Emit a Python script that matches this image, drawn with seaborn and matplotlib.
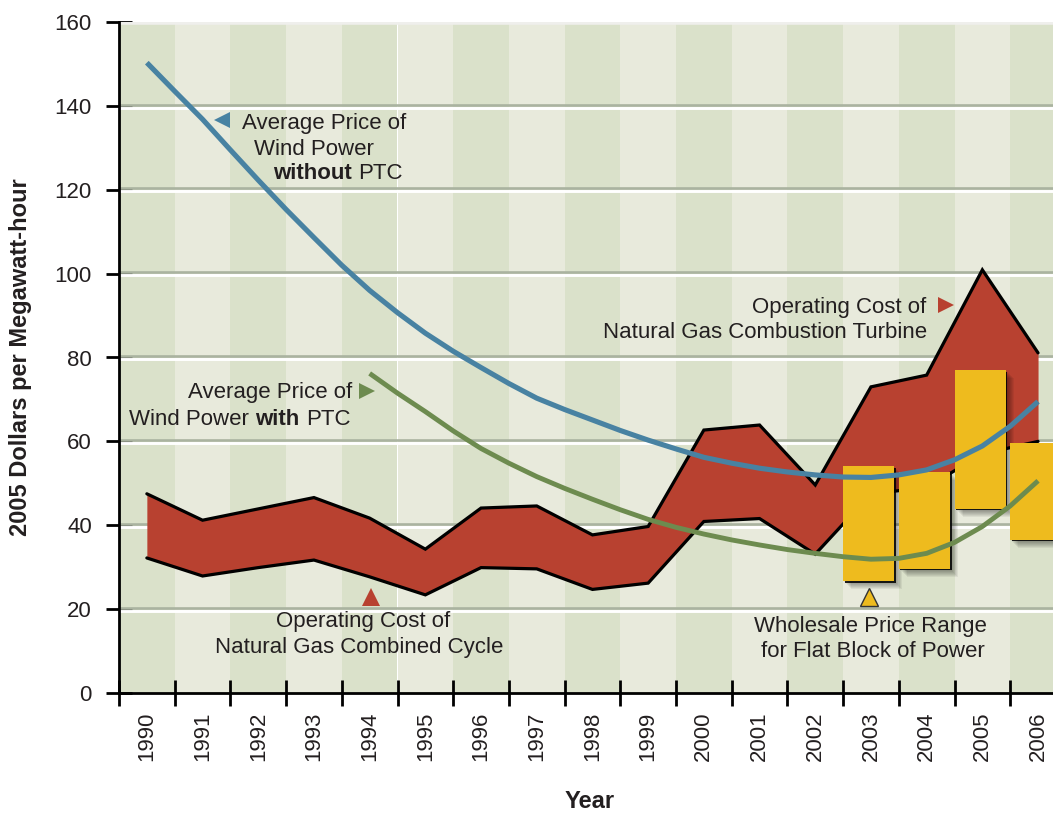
import matplotlib
matplotlib.use("Agg")
import matplotlib.pyplot as plt
import seaborn as sns

# ── Data ───────────────────────────────────────────────────────────────
years = list(range(1990, 2007))

# Natural gas operating cost band (lower = combined cycle, upper = combustion turbine)
gas_low = [32.2, 27.9, 29.9, 31.7, 27.7, 23.4, 29.9, 29.6, 24.7, 26.2,
           40.9, 41.6, 33.1, 47.5, 49.0, 57.0, 60.0]
gas_high = [47.5, 41.2, 43.9, 46.6, 41.7, 34.3, 44.1, 44.6, 37.7, 39.7,
            62.7, 63.9, 49.6, 73.0, 75.8, 100.9, 81.1]

# Average price of wind power without PTC (curve read every half year)
wind_years = [1990 + 0.5 * i for i in range(33)]
wind_no_ptc = [150.3, 143.5, 136.8, 129.5, 122.3, 115.3, 108.6, 102.0, 96.0, 90.7,
               85.8, 81.5, 77.6, 73.8, 70.3, 67.6, 65.1, 62.6, 60.3, 58.2,
               56.2, 54.8, 53.6, 52.7, 52.0, 51.5, 51.4, 52.0, 53.2, 55.6,
               58.9, 63.6, 69.5]

# Average price of wind power with PTC (starts 1994)
ptc_years = [1994 + 0.5 * i for i in range(25)]
wind_ptc = [76.2, 71.5, 67.1, 62.5, 58.3, 54.8, 51.6, 48.8, 46.2, 43.7,
            41.4, 39.5, 37.9, 36.5, 35.3, 34.2, 33.3, 32.5, 31.9, 32.1,
            33.3, 35.9, 39.7, 44.6, 50.6]

# Wholesale price range for flat block of power
bar_years = [2003, 2004, 2005, 2006]
bar_low = [26.7, 29.6, 43.9, 36.5]
bar_high = [54.1, 52.7, 77.0, 59.7]

y_ticks = list(range(0, 161, 20))

# ── Style ──────────────────────────────────────────────────────────────
RED = "#b84130"
YELLOW = "#eebb1e"
BLUE = "#4882a2"
GREEN = "#6d8b4f"
TXT = "#231f20"
STRIPE_DARK = "#dae1ca"
STRIPE_LIGHT = "#e8eadc"
GRID = "#aab3a0"

sns.set_style("ticks")
plt.rcParams["font.family"] = ["Liberation Sans", "DejaVu Sans"]
plt.rcParams["text.color"] = TXT

fig = plt.figure(figsize=(10.53, 8.13), dpi=100)
ax = fig.add_axes([119 / 1053, 1 - 693 / 813, 934 / 1053, 671 / 813])

PX_X = 1 / 55.7      # one pixel in years
PX_Y = 160 / 671     # one pixel in dollars

# year stripes
for i, yr in enumerate(years):
    ax.axvspan(yr - 0.5, yr + 0.5, color=STRIPE_DARK if i % 2 == 0 else STRIPE_LIGHT,
               lw=0, zorder=0)

# gridlines: grey line with a white highlight underneath
for v in y_ticks[1:-1]:
    ax.axhline(v + 1.3 * PX_Y, color=GRID, lw=1.9, zorder=1)
    ax.axhline(v - 1.7 * PX_Y, color="white", lw=2.1, zorder=1)
ax.axhline(y_ticks[-1], color="#efefec", lw=4, zorder=1)

# gas cost band
ax.fill_between(years, gas_low, gas_high, color=RED, lw=0, zorder=2)
sns.lineplot(x=years, y=gas_high, color="black", lw=2.3, zorder=3, ax=ax,
             solid_joinstyle="miter")
sns.lineplot(x=years, y=gas_low, color="black", lw=2.3, zorder=3, ax=ax,
             solid_joinstyle="miter")

# wholesale price bars with soft drop shadow
heights = [h - l for l, h in zip(bar_low, bar_high)]
lefts = [y - 0.5 for y in bar_years]
for k in range(1, 9):
    ax.bar([x + k * PX_X for x in lefts], heights,
           bottom=[l - k * PX_Y for l in bar_low], width=0.92, align="edge",
           color="black", alpha=0.06, lw=0, zorder=4)
ax.bar([x + 1.5 * PX_X for x in lefts], heights,
       bottom=[l - 1.5 * PX_Y for l in bar_low], width=0.92, align="edge",
       color="black", alpha=0.85, lw=0, zorder=4)
ax.bar(lefts, heights, bottom=bar_low, width=0.92, align="edge",
       color=YELLOW, lw=0, zorder=4)

# wind price curves
sns.lineplot(x=wind_years, y=wind_no_ptc, color=BLUE, lw=3.7, zorder=5, ax=ax,
             solid_capstyle="butt")
sns.lineplot(x=ptc_years, y=wind_ptc, color=GREEN, lw=3.5, zorder=5, ax=ax,
             solid_capstyle="butt")

# ── Annotations ────────────────────────────────────────────────────────
FS = 16
ax.plot(1991.35, 136.6, marker="<", ms=12, color=BLUE, mew=0, zorder=6)
ax.text(1991.71, 134.4, "Average Price of", fontsize=FS, ha="left", va="baseline")
ax.text(1991.93, 128.4, "Wind Power", fontsize=FS, ha="left", va="baseline")
t = ax.text(1992.26, 122.6, "without", fontsize=FS, weight="bold", ha="left",
            va="baseline")
ax.annotate("PTC", xy=(1, 0), xycoords=t, xytext=(4.5, 0), textcoords="offset points",
            fontsize=FS, ha="left", va="bottom", color=TXT)

ax.plot(1993.95, 72.1, marker=">", ms=12, color=GREEN, mew=0, zorder=6)
ax.text(1993.68, 70.3, "Average Price of", fontsize=FS, ha="right", va="baseline")
t3 = ax.text(1993.65, 63.9, "PTC", fontsize=FS, ha="right", va="baseline")
t2 = ax.annotate("with", xy=(0, 0), xycoords=t3, xytext=(-4.5, 0),
                 textcoords="offset points", fontsize=FS, weight="bold",
                 ha="right", va="bottom", color=TXT)
ax.annotate("Wind Power", xy=(0, 0), xycoords=t2, xytext=(-4.5, 0),
            textcoords="offset points", fontsize=FS, ha="right", va="bottom", color=TXT)

ax.plot(2004.34, 92.6, marker=">", ms=12, color=RED, mew=0, zorder=6)
ax.text(2003.99, 90.5, "Operating Cost of", fontsize=FS, ha="right", va="baseline")
ax.text(2004.01, 84.6, "Natural Gas Combustion Turbine", fontsize=FS, ha="right",
        va="baseline")

ax.plot(1994.03, 23.0, marker="^", ms=13, color=RED, mew=0, zorder=6)
ax.text(1993.89, 15.7, "Operating Cost of", fontsize=FS, ha="center", va="baseline")
ax.text(1993.82, 9.5, "Natural Gas Combined Cycle", fontsize=FS, ha="center",
        va="baseline")

ax.plot(2002.97, 22.8, marker="^", ms=13, color=YELLOW, mec="#333333", mew=1, zorder=6)
ax.text(2005.08, 14.6, "Wholesale Price Range", fontsize=FS, ha="right", va="baseline")
ax.text(2005.04, 8.5, "for Flat Block of Power", fontsize=FS, ha="right", va="baseline")

# ── Axes ───────────────────────────────────────────────────────────────
ax.set_xlim(1989.5, 1989.5 + 934 * PX_X)
ax.set_ylim(0, 160)
ax.set_yticks(y_ticks)
ax.set_xticks(years)
ax.set_xticklabels([str(y) for y in years], rotation=90)
ax.set_xticks([y - 0.5 for y in years], minor=True)

ax.tick_params(axis="y", direction="inout", length=19, width=2, pad=10,
               labelsize=FS, colors="black", labelcolor=TXT)
ax.tick_params(axis="x", which="major", length=0, pad=13.5, labelsize=FS,
               labelcolor=TXT)
ax.tick_params(axis="x", which="minor", direction="inout", length=19, width=2,
               color="black")

sns.despine(ax=ax)
for side in ("left", "bottom"):
    ax.spines[side].set_linewidth(2)
    ax.spines[side].set_color("black")
    ax.spines[side].set_zorder(7)

ax.set_ylabel("2005 Dollars per Megawatt-hour", fontsize=17, weight="bold", color=TXT)
ax.yaxis.set_label_coords(-0.0935, 0.5)
ax.set_xlabel("Year", fontsize=17, weight="bold", color=TXT)
ax.xaxis.set_label_coords(0.504, -0.144)

fig.savefig("out.png", dpi=100)
